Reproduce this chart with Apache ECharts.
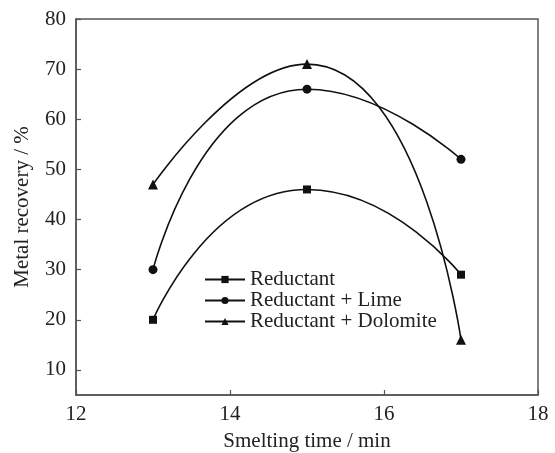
<!DOCTYPE html>
<html>
<head>
<meta charset="utf-8">
<script src="https://cdn.jsdelivr.net/npm/echarts@6/dist/echarts.min.js"></script>
<style>
  html, body { margin: 0; padding: 0; background: #fff; }
  #chart { width: 555px; height: 453px; }
</style>
</head>
<body>
<div id="chart"></div>
<script>
const smeltingTime = [13, 15, 17]
const reductant = [20, 46, 29]
const reductantLime = [30, 66, 52]
const reductantDolomite = [47, 71, 16]
const yTickValues = [10, 20, 30, 40, 50, 60, 70, 80]

const FONT = 'Liberation Serif'
const FONT_SIZE = 21
const AXIS_COLOR = '#555'
const INK = '#111'
const TEXT = '#222'

function pairs(values) {
  return smeltingTime.map((t, i) => [t, values[i]])
}

function makeSeries(name, values, symbol, size) {
  return {
    name,
    type: 'line',
    data: pairs(values),
    smooth: 0.6,
    symbol,
    symbolSize: size,
    lineStyle: { width: 1.6, color: INK },
    itemStyle: { color: INK }
  }
}

const chart = echarts.init(document.getElementById('chart'))

chart.setOption({
  animation: false,
  backgroundColor: '#fff',
  grid: {
    left: 76,
    right: 17,
    top: 19,
    bottom: 58,
    outerBoundsMode: 'none',
    containLabel: false,
    show: true,
    borderColor: AXIS_COLOR,
    borderWidth: 1.5
  },
  legend: {
    orient: 'vertical',
    left: 199,
    top: 264,
    itemWidth: 40,
    itemHeight: 9,
    itemGap: 0,
    textStyle: { fontFamily: FONT, fontSize: FONT_SIZE, color: TEXT },
    data: ['Reductant', 'Reductant + Lime', 'Reductant + Dolomite']
  },
  xAxis: {
    type: 'value',
    min: 12,
    max: 18,
    interval: 2,
    name: 'Smelting time / min',
    nameLocation: 'middle',
    nameGap: 36,
    nameTextStyle: { fontFamily: FONT, fontSize: FONT_SIZE, color: TEXT },
    axisLine: { show: true, lineStyle: { color: AXIS_COLOR, width: 1.5 } },
    axisTick: { show: true, inside: true, length: 5, lineStyle: { color: AXIS_COLOR, width: 1.2 } },
    axisLabel: { fontFamily: FONT, fontSize: FONT_SIZE, color: TEXT, margin: 9 },
    splitLine: { show: false }
  },
  yAxis: {
    type: 'value',
    min: 5,
    max: 80,
    name: 'Metal recovery / %',
    nameLocation: 'middle',
    nameGap: 43,
    nameTextStyle: { fontFamily: FONT, fontSize: FONT_SIZE, color: TEXT },
    axisLine: { show: true, lineStyle: { color: AXIS_COLOR, width: 1.5 } },
    axisTick: {
      show: true,
      inside: true,
      length: 5,
      customValues: yTickValues,
      lineStyle: { color: AXIS_COLOR, width: 1.2 }
    },
    axisLabel: {
      fontFamily: FONT,
      fontSize: FONT_SIZE,
      color: TEXT,
      margin: 10,
      customValues: yTickValues
    },
    splitLine: { show: false }
  },
  series: [
    makeSeries('Reductant', reductant, 'rect', 8),
    makeSeries('Reductant + Lime', reductantLime, 'circle', 9),
    makeSeries('Reductant + Dolomite', reductantDolomite, 'triangle', 10)
  ]
})
</script>
</body>
</html>
